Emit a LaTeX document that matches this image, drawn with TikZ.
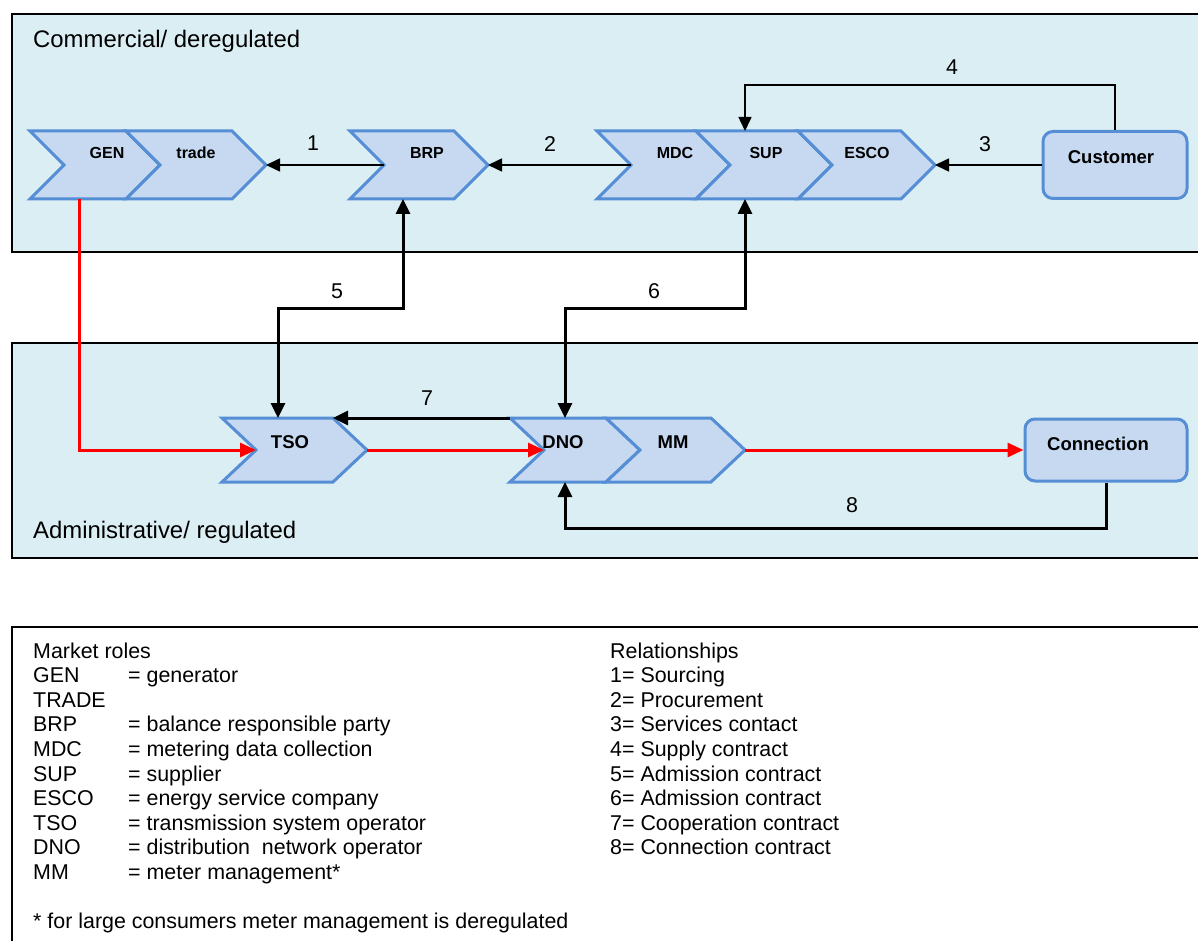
\documentclass[tikz,border=0pt]{standalone}
\usepackage{fontspec}
\setmainfont{Liberation Sans}
\usetikzlibrary{arrows.meta}

\definecolor{panelfill}{HTML}{DBEEF4}
\definecolor{chevfill}{HTML}{C6D9F1}
\definecolor{chevline}{HTML}{558ED5}
\definecolor{flowred}{HTML}{FF0000}

\tikzset{
  panel/.style={draw=black, line width=2.5pt},
  chevshape/.style={draw=chevline, fill=chevfill, line width=3pt, line join=miter},
  rolebox/.style={draw=chevline, fill=chevfill, line width=3pt, rounded corners=10pt, inner sep=0pt},
  smalllabel/.style={font=\fontsize{16}{19}\selectfont\bfseries, anchor=base, inner sep=0pt},
  biglabel/.style={font=\fontsize{18.5}{22}\selectfont\bfseries, anchor=base, inner sep=0pt},
  num/.style={font=\fontsize{21.4}{25}\selectfont, anchor=base, inner sep=0pt},
  paneltitle/.style={font=\fontsize{23.9}{28}\selectfont, anchor=base west, inner sep=0pt},
  legend/.style={font=\fontsize{21.4}{25}\selectfont, anchor=base west, inner sep=0pt},
  rel/.style={line width=1.6pt, -{Triangle[length=14pt,width=13pt]}},
  relthick/.style={line width=3pt, -{Triangle[length=15pt,width=14pt]}},
  relboth/.style={line width=3pt, {Triangle[length=15pt,width=14pt]}-{Triangle[length=15pt,width=14pt]}},
  flowline/.style={draw=flowred, line width=3pt, -{Triangle[length=16pt,width=14pt,fill=flowred]}},
}

% chevron: name, left x, tip x, middle y, half height
\newcommand\chevron[5]{%
  \draw[chevshape] (#2,#4-#5) -- (#3-34,#4-#5) -- (#3,#4) -- (#3-34,#4+#5)
    -- (#2,#4+#5) -- (#2+34,#4) -- cycle;
  \coordinate (#1-tip) at (#3,#4);
  \coordinate (#1-notch) at (#2+34,#4);
  \coordinate (#1-nw) at (#2,#4-#5);
  \coordinate (#1-ne) at (#3-34,#4-#5);
}

\begin{document}
\begin{tikzpicture}[x=1pt,y=-1pt]
\useasboundingbox (0,0) rectangle (1198,941);
\clip (0,0) rectangle (1198,941);

% layer panels
\draw[panel, fill=panelfill] (12,14) rectangle (1225,252);
\draw[panel, fill=panelfill] (12,343) rectangle (1225,558);
\draw[panel, fill=white] (12,627) rectangle (1225,970);

\node[paneltitle] (commercial) at (33,48) {Commercial/ deregulated};
\node[paneltitle] (administrative) at (33,538) {Administrative/ regulated};

% commercial roles
\chevron{gen}{30}{160}{165}{34}
\chevron{trade}{126}{266}{165}{34}
\chevron{brp}{350}{488}{165}{34}
\chevron{mdc}{597}{730}{165}{34}
\chevron{sup}{696}{832}{165}{34}
\chevron{esco}{798}{935}{165}{34}

\node[smalllabel] (gen) at (107,159) {GEN};
\node[smalllabel] (trade) at (196,159) {trade};
\node[smalllabel] (brp) at (427,159) {BRP};
\node[smalllabel] (mdc) at (675,159) {MDC};
\node[smalllabel] (sup) at (766,159) {SUP};
\node[smalllabel] (esco) at (867,159) {ESCO};

\node[rolebox, minimum width=144pt, minimum height=67pt] (customer) at (1115,165) {};
\node[biglabel] (customer-text) at (1111,164) {Customer};

% regulated roles
\chevron{tso}{222}{367}{450}{32}
\chevron{dno}{510}{640}{450}{32}
\chevron{mm}{606}{745}{450}{32}

\node[biglabel] (tso) at (290,448) {TSO};
\node[biglabel] (dno) at (563,448) {DNO};
\node[biglabel] (mm) at (673,448) {MM};

\node[rolebox, minimum width=162pt, minimum height=62pt] (connection) at (1106,450) {};
\node[biglabel] (connection-text) at (1098,450) {Connection};

% connector attachment points
\coordinate (gen-s) at (79,199);
\coordinate (brp-s) at (403,199);
\coordinate (sup-n) at (745,131);
\coordinate (sup-s) at (745,199);
\coordinate (tso-n) at (278,418);
\coordinate (dno-n) at (565,418);
\coordinate (dno-s) at (565,482);
\coordinate (k4) at (745,85);
\coordinate (k5) at (403,308);
\coordinate (k6) at (745,308);
\coordinate (k8) at (565,528);

% energy flow
\draw[flowline] (gen-s) |- (tso-notch);
\draw[flowline] (tso-tip) -- (dno-notch);
\draw[flowline] (mm-tip) -- (connection.west);

% relationships
\draw[rel] (brp-notch) -- (trade-tip);
\draw[rel] (mdc-notch) -- (brp-tip);
\draw[rel] (customer.west) -- (esco-tip);
\draw[rel] (customer.north) |- (k4) -- (sup-n);
\draw[relboth] (tso-n) |- (k5) -- (brp-s);
\draw[relboth] (dno-n) |- (k6) -- (sup-s);
\draw[relthick] (dno-nw) -- (tso-ne);
\draw[relthick] (connection.south) |- (k8) -- (dno-s);

\node[num] (n1) at (313,151) {1};
\node[num] (n2) at (550,152) {2};
\node[num] (n3) at (985,152) {3};
\node[num] (n4) at (952,75) {4};
\node[num] (n5) at (337,298) {5};
\node[num] (n6) at (654,298) {6};
\node[num] (n7) at (427,405) {7};
\node[num] (n8) at (852,512) {8};

% legend
\node[legend] (lr0) at (33,658) {Market roles};
\node[legend] (lr1) at (33,682.6) {GEN};
\node[legend] (lr2) at (33,707.2) {TRADE};
\node[legend] (lr3) at (33,731.8) {BRP};
\node[legend] (lr4) at (33,756.4) {MDC};
\node[legend] (lr5) at (33,781) {SUP};
\node[legend] (lr6) at (33,805.6) {ESCO};
\node[legend] (lr7) at (33,830.2) {TSO};
\node[legend] (lr8) at (33,854.8) {DNO};
\node[legend] (lr9) at (33,879.4) {MM};

\node[legend] (ld1) at (128,682.6) {= generator};
\node[legend] (ld3) at (128,731.8) {= balance responsible party};
\node[legend] (ld4) at (128,756.4) {= metering data collection};
\node[legend] (ld5) at (128,781) {= supplier};
\node[legend] (ld6) at (128,805.6) {= energy service company};
\node[legend] (ld7) at (128,830.2) {= transmission system operator};
\node[legend] (ld8) at (128,854.8) {= distribution\ \ network operator};
\node[legend] (ld9) at (128,879.4) {= meter management*};

\node[legend] (note) at (33,928) {* for large consumers meter management is deregulated};

\node[legend] (rs0) at (610,658) {Relationships};
\node[legend] (rs1) at (610,682.6) {1= Sourcing};
\node[legend] (rs2) at (610,707.2) {2= Procurement};
\node[legend] (rs3) at (610,731.8) {3= Services contact};
\node[legend] (rs4) at (610,756.4) {4= Supply contract};
\node[legend] (rs5) at (610,781) {5= Admission contract};
\node[legend] (rs6) at (610,805.6) {6= Admission contract};
\node[legend] (rs7) at (610,830.2) {7= Cooperation contract};
\node[legend] (rs8) at (610,854.8) {8= Connection contract};
\end{tikzpicture}
\end{document}
